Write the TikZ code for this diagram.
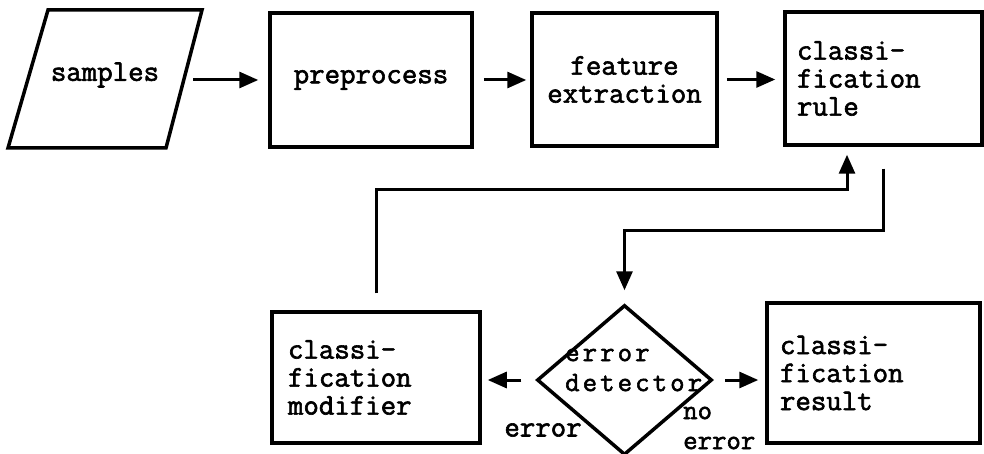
\documentclass[tikz,border=0pt]{standalone}
\usepackage{fontspec}
\newfontfamily\heavytt{Latin Modern Mono}[FakeBold=2]
\newfontfamily\heavywide{Latin Modern Mono}[FakeBold=2,LetterSpace=11]
\usetikzlibrary{arrows.meta,shapes.geometric,calc}
\begin{document}
\begin{tikzpicture}[x=1pt,y=-1pt,
  txt/.style={font=\heavytt\fontsize{30}{28}\selectfont},
  box/.style={draw,line width=3.5pt,rectangle,inner xsep=14pt,inner ysep=0pt,txt},
  conn/.style={line width=3pt,-{Triangle[length=19pt,width=16pt]}}
]
\useasboundingbox (0,0) rectangle (984,454);

% input parallelogram
\draw[line width=3.5pt,line join=miter] (48,10) -- (202,10) -- (166,148) -- (8,148) -- cycle;
\node[txt,inner sep=0pt,minimum width=176pt] (samples) at (105,75) {samples};

% top row
\node[box,inner xsep=4pt,text width=194pt,align=center,minimum height=134pt] (pre) at (371,80) {preprocess};
\node[box,inner xsep=8pt,text width=169pt,align=center,minimum height=133pt] (feat) at (624.5,79.5) {feature\\extraction};
\node[box,inner xsep=12pt,text width=173pt,align=left,minimum height=133pt] (rule) at (883.5,78.5) {classi-\\fication\\rule};

% bottom row
\node[box,inner xsep=16pt,text width=176pt,align=left,minimum height=131pt] (mod) at (376,377.5) {classi-\\fication\\modifier};
\node[diamond,draw,line width=3.5pt,minimum width=175pt,minimum height=150pt,inner sep=0pt] (det) at (624.5,380) {};
\node[inner sep=0pt,align=left,anchor=west,font=\heavywide\fontsize{28}{30}\selectfont] (dett) at (565,370) {error\\detector};
\node[box,inner xsep=13pt,text width=187pt,align=left,minimum height=140pt] (res) at (873.5,373) {classi-\\fication\\result};

% labels
\node[txt,inner sep=0pt] (errlab) at (543,430) {error};
\node[inner sep=0pt,align=left,anchor=west,font=\heavytt\fontsize{28}{30}\selectfont] (noerr) at (683,428) {no\\error};

% connectors
\coordinate (fb) at (847,190);
\draw[conn,shorten >=10pt] (samples.east |- pre.west) -- (pre.west);
\draw[conn,shorten <=10pt,shorten >=4pt] (pre.east) -- (pre.east -| feat.west);
\draw[conn,shorten <=8pt,shorten >=8pt] (feat.east) -- (feat.east -| rule.west);
\draw[conn,shorten <=17pt,shorten >=8pt] (mod.north) |- (fb) -- (fb |- rule.south);
\draw[conn,shorten <=22pt,shorten >=13pt] (rule.south) -- ++(0,84) -| (det.north);
\draw[conn,shorten <=14pt,shorten >=6pt] (det.west) -- (det.west -| mod.east);
\draw[conn,shorten <=11pt,shorten >=7pt] (det.east) -- (det.east -| res.west);
\end{tikzpicture}
\end{document}
